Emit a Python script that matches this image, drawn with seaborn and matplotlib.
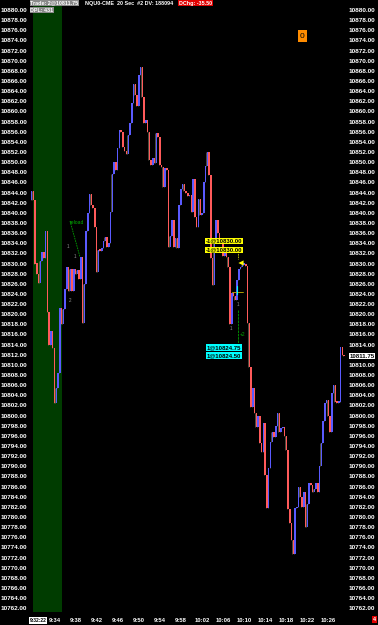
import numpy as np
import pandas as pd
import matplotlib
matplotlib.use("Agg")
import matplotlib.pyplot as plt
import seaborn as sns

# ---------------- data ----------------
first_open = 10842.5
closes = [
    10844.25, 10842.5, 10830.0, 10828.0, 10826.25, 10830.5, 10832.25, 10831.0, 10836.5, 10820.5,
    10814.0, 10816.75, 10813.25, 10802.5, 10805.5, 10808.5, 10821.25, 10818.0, 10821.0, 10825.0,
    10829.25, 10824.5, 10829.0, 10824.5, 10829.0, 10828.0, 10828.75, 10827.0, 10831.25, 10818.25,
    10826.0, 10836.5, 10840.0, 10843.75, 10841.5, 10841.0, 10837.25, 10828.25, 10832.75, 10832.5,
    10833.0, 10834.5, 10835.25, 10833.25, 10834.0, 10840.25, 10847.75, 10850.0, 10848.5, 10852.75,
    10856.25, 10856.0, 10853.0, 10852.25, 10851.5, 10855.25, 10857.75, 10861.75, 10865.5, 10863.25,
    10861.0, 10867.25, 10868.75, 10862.75, 10857.75, 10858.25, 10856.0, 10850.5, 10849.5, 10850.75,
    10849.75, 10855.75, 10855.0, 10849.5, 10849.0, 10845.0, 10848.75, 10848.5, 10833.25, 10835.5,
    10838.5, 10833.25, 10835.0, 10833.0, 10841.5, 10844.75, 10845.75, 10844.25, 10844.0, 10843.25,
    10843.5, 10840.25, 10846.75, 10839.25, 10837.25, 10842.75, 10839.5, 10840.0, 10846.0, 10849.25,
    10852.0, 10847.5, 10831.0, 10825.75, 10834.5, 10838.5, 10836.0, 10834.5, 10835.0, 10831.5,
    10832.0, 10831.25, 10829.25, 10818.0, 10824.25, 10823.5, 10822.75, 10826.75, 10829.0, 10829.25,
    10829.75, 10830.0, 10829.5, 10818.25, 10809.5, 10801.75, 10805.5, 10800.5, 10797.75, 10800.0,
    10794.5, 10792.75, 10798.5, 10788.25, 10781.75, 10789.75, 10794.75, 10796.75, 10795.75, 10798.0,
    10800.5, 10796.75, 10797.5, 10797.75, 10796.0, 10793.25, 10781.5, 10778.75, 10775.5, 10772.75,
    10781.75, 10782.0, 10786.0, 10784.0, 10782.0, 10785.0, 10778.0, 10782.5, 10786.75, 10786.25,
    10785.0, 10785.5, 10786.75, 10785.0, 10790.0, 10794.5, 10799.0, 10802.5, 10803.0, 10800.0,
    10796.75, 10804.5, 10806.0, 10802.75, 10802.5, 10802.75, 10813.5, 10812.0, 10811.75,
]
tick_minutes = [4, 8, 12, 16, 20, 24, 28, 32, 36, 40, 44, 48, 52, 56]
tick_labels = ["9:34", "9:38", "9:42", "9:46", "9:50", "9:54", "9:58", "10:02",
               "10:06", "10:10", "10:14", "10:18", "10:22", "10:26"]
header_trade = "Trade: 2@10811.75"
header_info = "NQU0-CME  20 Sec  #2 DV: 188094"
header_chg = "DChg: -35.50"
header_dpl = "DPL: 431"
first_time_label = "9:32:22"
sell_labels = ["-1@10830.00", "-1@10830.00"]
buy_labels = ["1@10824.75", "1@10824.50"]
last_price = 10811.75

# ---------------- frame ----------------
opens = [first_open] + closes[:-1]
df = pd.DataFrame({"idx": np.arange(len(closes)), "open": opens, "close": closes})
df["lo"] = df[["open", "close"]].min(axis=1)
df["hi"] = df[["open", "close"]].max(axis=1)
df["h"] = (df["hi"] - df["lo"]).clip(lower=0.3)
df["col"] = np.where(df["close"] >= df["open"], "#5a5aff", "#ff5a5a")

sns.set_style("dark", {"axes.facecolor": "black", "figure.facecolor": "black"})
plt.rcParams["font.family"] = ["Liberation Sans", "DejaVu Sans"]

W, H = 378, 625
fig = plt.figure(figsize=(W / 100, H / 100), dpi=100)
ax = fig.add_axes([30 / W, 1 - 612 / H, (346 - 30) / W, 612 / H])
ax.set_facecolor("black")

px_per_bar = 1.756
x0_px = 31.5
def px2i(px):
    return (px - x0_px) / px_per_bar
def py2p(py):
    return 10880 - (py - 10) / 5.07

ax.set_xlim(px2i(30), px2i(346))
ax.set_ylim(py2p(612), py2p(0))

# opening-range green band 9:30 - 9:35
ax.axvspan(px2i(33), px2i(62), color="#003c00", zorder=0, lw=0)

# bars
ax.vlines(df["idx"] - 0.45, df["lo"], df["lo"] + df["h"], color="#7c7c66", lw=0.45, zorder=2)
ax.bar(df["idx"] + 0.1, df["h"], bottom=df["lo"], width=0.85, color=df["col"], lw=0, zorder=3)

# ticks
yt = np.arange(10762, 10881, 2)
ax.set_yticks(yt)
ax.set_yticklabels([f"{v:.2f}" for v in yt])
ax.set_xticks([1 + 3 * m for m in tick_minutes])
ax.set_xticklabels(tick_labels)
ax.tick_params(axis="y", length=0, labelsize=4.6, labelcolor="white", pad=2,
               left=True, right=True, labelleft=True, labelright=True)
ax.tick_params(axis="x", length=0, labelsize=4.2, labelcolor="white", pad=4.5)
for t in ax.get_xticklabels() + ax.get_yticklabels():
    t.set_fontweight("bold")
ax.grid(False)
for s in ax.spines.values():
    s.set_visible(False)

hfs = 3.9
def ftext(xpx, ypx, s, fc=None, color="white", ha="left", size=hfs):
    kw = dict(fontsize=size, fontweight="bold", color=color, ha=ha, va="center")
    if fc is not None:
        kw["bbox"] = dict(boxstyle="square,pad=0.12", fc=fc, ec="none")
    fig.text(xpx / W, 1 - ypx / H, s, **kw)

ftext(30.5, 3.2, header_trade, fc="#8a8a8a")
ftext(85, 3.2, header_info)
ftext(179, 3.2, header_chg, fc="#e00000")
ftext(30.5, 10.3, header_dpl, fc="#8a8a8a")
ftext(30.0, 620.5, first_time_label, fc="white", color="black", size=3.6)
ftext(374.5, 619.5, "4", fc="#e00000", ha="center")
ftext(349.5, 356, f"{last_price:.2f}", fc="white", color="black", size=4.4)

# orange counter box
ax.text(px2i(302.5), py2p(36), "0", fontsize=6, color="black", ha="center", va="center",
        bbox=dict(boxstyle="square,pad=0.25", fc="#ff8c00", ec="none"), zorder=6)

# order labels
for k, s in enumerate(sell_labels):
    ax.text(px2i(205.5), py2p(241 + 9 * k), s, fontsize=4.3, fontweight="bold", color="black",
            ha="left", va="center", zorder=6,
            bbox=dict(boxstyle="square,pad=0.12", fc="#ffff00", ec="none"))
for k, s in enumerate(buy_labels):
    ax.text(px2i(206.5), py2p(347.5 + 8 * k), s, fontsize=4.3, fontweight="bold", color="black",
            ha="left", va="center", zorder=6,
            bbox=dict(boxstyle="square,pad=0.12", fc="#00ffff", ec="none"))

# triangle marker
sns.scatterplot(x=[px2i(241)], y=[py2p(263)], marker="<", color="#ffff00", s=14,
                edgecolor="none", ax=ax, zorder=7)
# yellow dashed stub and crosshair
ax.plot([px2i(238), px2i(238)], [py2p(251), py2p(259)], color="#c8c800", lw=0.6, ls=(0, (2, 1)), zorder=5)
ax.plot([px2i(232), px2i(243)], [py2p(292), py2p(292)], color="#c8b400", lw=0.6, zorder=5)
ax.plot([px2i(237), px2i(237)], [py2p(286), py2p(294)], color="#00ffff", lw=0.8, zorder=5)
# green exit line
ax.plot([px2i(238), px2i(238)], [py2p(310), py2p(343)], color="#00a000", lw=0.6, ls=(0, (3, 1)), zorder=5)
ax.text(px2i(239.5), py2p(335), "+2", fontsize=3.5, color="#00b000", ha="left", va="center", zorder=6)

# reload annotation
ax.plot([px2i(70), px2i(80)], [py2p(221), py2p(257)], color="#00a000", lw=0.6, ls=(0, (2, 1)), zorder=5)
ax.text(px2i(70), py2p(222.5), "reload", fontsize=3.6, color="#00b000", ha="left", va="center", zorder=6)

# tiny trade counts
for xp, yp, s in [(68, 246, "1"), (75, 256, "1"), (70, 301, "2"), (238, 305, "1"), (231, 329, "1")]:
    ax.text(px2i(xp), py2p(yp), s, fontsize=3.3, color="#909090", ha="center", va="center", zorder=6)

fig.savefig("out.png", dpi=100, facecolor="black")
